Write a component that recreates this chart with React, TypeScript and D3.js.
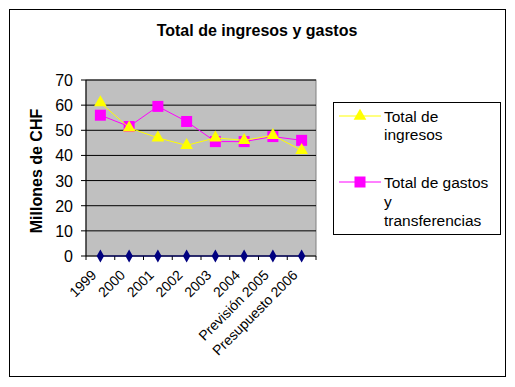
import React from "react"
import * as d3 from "d3"

const years = ["1999", "2000", "2001", "2002", "2003", "2004", "Previsión 2005", "Presupuesto 2006"]
const ingresos = [61, 51, 47, 44, 47, 46, 48, 42]
const gastos = [56, 51.5, 59.5, 53.5, 45.5, 45.5, 47.5, 46]
const ceros = [0, 0, 0, 0, 0, 0, 0, 0]
const yTicks = [0, 10, 20, 30, 40, 50, 60, 70]

export default function App() {
  const left = 86, right = 316, top = 80, bottom = 256
  const x = d3.scaleBand().domain(years).range([left, right])
  const y = d3.scaleLinear().domain([0, 70]).range([bottom, top])
  const cx = (d: string) => (x(d) || 0) + x.bandwidth() / 2

  const line = d3.line<number>().x((_, i) => cx(years[i])).y((d) => y(d))
  const tri = d3.symbol(d3.symbolTriangle, 70)()
  const diamond = d3.symbol(d3.symbolDiamond, 48)()
  const font = "Arial, 'Liberation Sans', sans-serif"

  return (
    <svg width={515} height={387} style={{ position: "absolute", left: 0, top: 0 }} fontFamily={font}>
      <rect x={9.5} y={9.5} width={496} height={367} fill="#fff" stroke="#000" />
      <text x={257} y={36} textAnchor="middle" fontSize={16} fontWeight="bold">Total de ingresos y gastos</text>

      <rect x={left} y={top} width={right - left} height={bottom - top} fill="#c0c0c0" stroke="#808080" />
      {yTicks.filter((t) => t > 0).map((t) => (
        <line key={t} x1={left} x2={right} y1={y(t)} y2={y(t)} stroke="#000" />
      ))}
      <line x1={left} x2={left} y1={top} y2={bottom} stroke="#000" />
      <line x1={left} x2={right} y1={bottom} y2={bottom} stroke="#000" />
      {yTicks.map((t) => (
        <g key={t}>
          <line x1={left - 5} x2={left} y1={y(t)} y2={y(t)} stroke="#000" />
          <text x={left - 13} y={y(t) + 6} textAnchor="end" fontSize={16}>{t}</text>
        </g>
      ))}
      {years.map((d) => (
        <line key={d} x1={x(d)} x2={x(d)} y1={bottom} y2={bottom + 4} stroke="#000" />
      ))}
      <line x1={right} x2={right} y1={bottom} y2={bottom + 4} stroke="#000" />
      {years.map((d) => (
        <text key={d} transform={`translate(${cx(d) - 3},${bottom + 20}) rotate(-45)`} textAnchor="end" fontSize={14}>{d}</text>
      ))}

      <text transform={`translate(42,171) rotate(-90)`} textAnchor="middle" fontSize={16} fontWeight="bold">Millones de CHF</text>

      <path d={line(ceros) || ""} fill="none" stroke="#000080" />
      {ceros.map((v, i) => (
        <path key={i} d={diamond || ""} transform={`translate(${cx(years[i])},${y(v)})`} fill="#000080" />
      ))}
      <path d={line(gastos) || ""} fill="none" stroke="#ff00ff" />
      {gastos.map((v, i) => (
        <rect key={i} x={cx(years[i]) - 5.5} y={y(v) - 5.5} width={11} height={11} fill="#ff00ff" />
      ))}
      <path d={line(ingresos) || ""} fill="none" stroke="#ffff00" />
      {ingresos.map((v, i) => (
        <path key={i} d={tri || ""} transform={`translate(${cx(years[i])},${y(v)})`} fill="#ffff00" />
      ))}

      <rect x={333.5} y={102.5} width={167} height={132} fill="#fff" stroke="#000" />
      <line x1={339} x2={381} y1={116} y2={116} stroke="#ffff00" />
      <path d={tri || ""} transform="translate(360,116)" fill="#ffff00" />
      <text x={384} y={122} fontSize={15.5}>Total de</text>
      <text x={384} y={140} fontSize={15.5}>ingresos</text>
      <line x1={339} x2={381} y1={182} y2={182} stroke="#ff00ff" />
      <rect x={354.5} y={176.5} width={11} height={11} fill="#ff00ff" />
      <text x={384} y={188} fontSize={15.5}>Total de gastos</text>
      <text x={384} y={207} fontSize={15.5}>y</text>
      <text x={384} y={226} fontSize={15.5}>transferencias</text>
    </svg>
  )
}
